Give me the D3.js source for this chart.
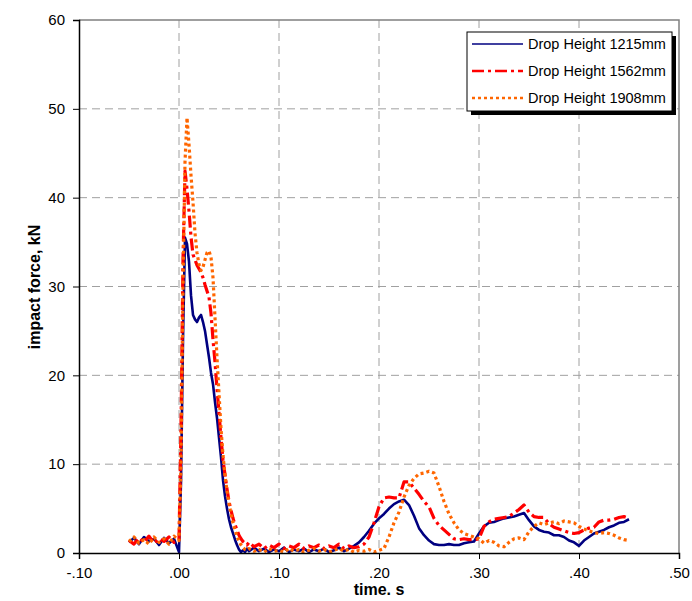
<!DOCTYPE html>
<html>
<head>
<meta charset="utf-8">
<script src="https://cdn.jsdelivr.net/npm/d3@7"></script>
<style>
  body { margin: 0; background: #fff; }
  text { font-family: "Liberation Sans", Arial, sans-serif; }
</style>
</head>
<body>
<svg id="chart" width="692" height="601"></svg>
<script>
// --- data (time in s, force in kN) ---
const time = [
  -0.050, -0.045, -0.040, -0.035, -0.030, -0.025, -0.020, -0.015, -0.010, -0.005, 0.000,
  0.002, 0.004, 0.006, 0.008, 0.010, 0.012, 0.014, 0.016, 0.018, 0.020,
  0.022, 0.024, 0.026, 0.028, 0.030, 0.032, 0.034, 0.036, 0.038, 0.040,
  0.042, 0.044, 0.046, 0.048, 0.050, 0.052, 0.054, 0.056, 0.058, 0.060,
  0.062, 0.064, 0.066, 0.068, 0.070,
  0.075, 0.080, 0.085, 0.090, 0.095, 0.100, 0.105, 0.110, 0.115, 0.120,
  0.125, 0.130, 0.135, 0.140, 0.145, 0.150, 0.155, 0.160, 0.165, 0.170,
  0.175, 0.180, 0.185, 0.190, 0.195, 0.200, 0.205, 0.210, 0.215, 0.220,
  0.225, 0.230, 0.235, 0.240, 0.245, 0.250, 0.255, 0.260, 0.265, 0.270,
  0.275, 0.280, 0.285, 0.290, 0.295, 0.300, 0.305, 0.310, 0.315, 0.320,
  0.325, 0.330, 0.335, 0.340, 0.345, 0.350, 0.355, 0.360, 0.365, 0.370,
  0.375, 0.380, 0.385, 0.390, 0.395, 0.400, 0.405, 0.410, 0.415, 0.420,
  0.425, 0.430, 0.435, 0.440, 0.445, 0.450
];

const h1215 = [
  1.2, 1.7, 1.0, 1.8, 1.3, 1.6, 0.9, 1.7, 1.1, 1.6, 0.1,
  8.0, 24.0, 35.5, 34.8, 32.8, 29.0, 26.8, 26.3, 26.0, 26.5,
  26.8, 26.0, 25.0, 23.5, 22.0, 20.3, 19.0, 17.0, 15.2, 13.0,
  10.8, 8.2, 6.4, 5.0, 3.8, 2.9, 2.2, 1.5, 0.9, 0.4,
  0.1, 0.3, 0.1, 0.5, 0.2,
  0.6, 0.2, 0.5, 0.1, 0.4, 0.2, 0.6, 0.1, 0.4, 0.2,
  0.5, 0.1, 0.4, 0.2, 0.5, 0.1, 0.3, 0.6, 0.2, 0.5,
  0.8, 1.2, 1.8, 2.5, 3.3, 3.9, 4.4, 5.0, 5.5, 5.8,
  6.0, 5.4, 4.2, 2.8, 2.0, 1.4, 1.0, 0.9, 0.9, 1.0,
  0.9, 0.9, 1.1, 1.2, 1.3, 2.2, 3.0, 3.4, 3.5, 3.7,
  3.9, 4.0, 4.1, 4.3, 4.5, 3.7, 3.0, 2.6, 2.4, 2.3,
  2.0, 2.0, 1.8, 1.4, 1.2, 0.8, 1.4, 1.8, 2.2, 2.4,
  2.6, 2.9, 3.1, 3.4, 3.5, 3.8
];

const h1562 = [
  1.4, 1.0, 1.7, 1.2, 1.9, 1.1, 1.6, 1.3, 1.8, 1.2, 1.5,
  14.0, 33.0, 43.0, 41.0, 38.5, 35.6, 33.6, 33.0, 32.4, 32.0,
  31.6, 31.0, 30.2, 29.5, 28.8, 27.0, 24.0, 21.5, 18.5, 15.8,
  13.0, 10.5, 8.8, 7.2, 5.8, 4.8, 3.9, 3.2, 2.6, 2.0,
  1.6, 1.3, 1.1, 0.9, 1.2,
  0.7, 1.0, 0.5, 0.9, 0.6, 1.0, 0.5, 0.8, 0.6, 1.0,
  0.5, 0.8, 0.6, 0.9, 0.5, 0.8, 0.6, 1.0, 0.5, 0.8,
  0.6, 0.7, 1.0, 1.8, 3.4, 5.2, 6.2, 6.3, 6.2, 6.2,
  8.0, 8.0, 7.3, 6.6, 5.8, 5.2, 3.9, 3.1, 2.6, 2.1,
  1.6, 1.5, 1.6, 1.5, 1.5, 1.6, 3.0, 3.5, 3.8, 3.9,
  4.0, 4.1, 4.5, 4.9, 5.4, 4.6, 4.1, 4.0, 4.0, 3.3,
  2.9, 2.7, 2.5, 2.3, 2.2, 2.3, 2.6, 2.8, 2.9, 3.5,
  3.7, 3.7, 3.8, 4.0, 4.1, 3.9
];

const h1908 = [
  1.3, 1.8, 1.1, 1.5, 1.0, 1.8, 1.2, 1.6, 1.0, 1.9, 1.4,
  10.0, 30.0, 44.0, 49.0, 46.0, 42.5, 39.5, 36.0, 33.8, 32.5,
  31.8, 32.2, 33.0, 33.8, 34.0, 33.3, 31.0, 26.5, 22.0, 18.0,
  14.0, 11.0, 8.8, 7.0, 5.6, 4.4, 3.4, 2.6, 1.9, 1.3,
  0.9, 0.6, 0.4, 0.3, 0.5,
  0.2, 0.4, 0.1, 0.5, 0.2, 0.3, 0.1, 0.5, 0.2, 0.4,
  0.1, 0.3, 0.5, 0.2, 0.4, 0.1, 0.3, 0.5, 0.2, 0.4,
  0.1, 0.3, 0.2, 0.4, 0.1, 0.3, 0.5, 1.8, 3.4, 4.6,
  6.3, 7.6, 8.4, 8.9, 9.0, 9.2, 9.0, 7.5, 5.8, 4.4,
  3.4, 2.6, 2.2, 2.0, 1.8, 1.6, 1.1, 1.4, 1.2, 0.8,
  0.7, 1.2, 1.6, 1.7, 1.5, 2.4, 3.0, 3.4, 3.2, 3.4,
  3.5, 3.3, 3.6, 3.5, 3.4, 3.0, 2.7, 2.5, 2.3, 2.2,
  2.3, 2.2, 2.0, 1.7, 1.5, 1.4
];

const seriesNames = ["Drop Height 1215mm", "Drop Height 1562mm", "Drop Height 1908mm"];
const xTicks = [-0.10, 0.00, 0.10, 0.20, 0.30, 0.40, 0.50];
const yTicks = [0, 10, 20, 30, 40, 50, 60];

// --- layout ---
const svg = d3.select("#chart");
const margin = { left: 79, top: 20, right: 679, bottom: 553 };

const x = d3.scaleLinear().domain([-0.10, 0.50]).range([margin.left, margin.right]);
const y = d3.scaleLinear().domain([0, 60]).range([margin.bottom, margin.top]);

// Excel style: ".10", "-.10"
const fmtX = d => (d < 0 ? "-" : "") + Math.abs(d).toFixed(2).replace(/^0/, "");

// gridlines
svg.append("g")
  .selectAll("line")
  .data(yTicks.filter(d => d > 0 && d < 60))
  .enter().append("line")
  .attr("x1", margin.left).attr("x2", margin.right)
  .attr("y1", d => y(d)).attr("y2", d => y(d))
  .attr("stroke", "#a0a0a0")
  .attr("stroke-dasharray", "8,5");

svg.append("g")
  .selectAll("line")
  .data(xTicks.filter(d => d > -0.1 && d < 0.5))
  .enter().append("line")
  .attr("x1", d => x(d)).attr("x2", d => x(d))
  .attr("y1", margin.top).attr("y2", margin.bottom)
  .attr("stroke", "#a0a0a0")
  .attr("stroke-dasharray", "8,5");

// plot border (top and right)
svg.append("path")
  .attr("d", `M${margin.left},${margin.top}H${margin.right}V${margin.bottom}`)
  .attr("fill", "none")
  .attr("stroke", "#808080")
  .attr("stroke-width", 1.5);

// series
const styles = [
  { data: h1215, color: "#000080", dash: null, width: 2.6 },
  { data: h1562, color: "#ff0000", dash: "12,4,3,4", width: 3.2 },
  { data: h1908, color: "#ff6600", dash: "3,3", width: 3.2 }
];

const line = d3.line()
  .x((d, i) => x(time[i]))
  .y(d => y(d));

svg.append("g")
  .selectAll("path")
  .data(styles)
  .enter().append("path")
  .attr("d", d => line(d.data))
  .attr("fill", "none")
  .attr("stroke", d => d.color)
  .attr("stroke-width", d => d.width)
  .attr("stroke-dasharray", d => d.dash)
  .attr("stroke-linejoin", "round");

// axes
const xAxis = svg.append("g")
  .attr("transform", `translate(0,${margin.bottom})`)
  .call(d3.axisBottom(x).tickValues(xTicks).tickFormat(fmtX).tickSize(6).tickPadding(8));
const yAxis = svg.append("g")
  .attr("transform", `translate(${margin.left},0)`)
  .call(d3.axisLeft(y).tickValues(yTicks).tickSize(6).tickPadding(8));

[xAxis, yAxis].forEach(a => {
  a.select(".domain").attr("stroke", "#000").attr("stroke-width", 1.5);
  a.selectAll(".tick line").attr("stroke", "#000");
  a.selectAll(".tick text")
    .attr("fill", "#000")
    .style("font-size", "15px")
    .style("font-family", "'Liberation Sans', Arial, sans-serif");
});

// axis titles
svg.append("text")
  .attr("x", 379).attr("y", 595)
  .attr("text-anchor", "middle")
  .style("font-size", "16px").style("font-weight", "bold")
  .text("time. s");

svg.append("text")
  .attr("transform", "translate(40,287) rotate(-90)")
  .attr("text-anchor", "middle")
  .style("font-size", "16px").style("font-weight", "bold")
  .text("impact force, kN");

// legend
const lg = svg.append("g");
lg.append("rect")
  .attr("x", 471).attr("y", 36).attr("width", 205).attr("height", 79)
  .attr("fill", "#000");
lg.append("rect")
  .attr("x", 467).attr("y", 32).attr("width", 205).attr("height", 79)
  .attr("fill", "#fff").attr("stroke", "#000");

const rows = [44, 71, 98];
styles.forEach((s, i) => {
  lg.append("line")
    .attr("x1", 472).attr("x2", 523)
    .attr("y1", rows[i]).attr("y2", rows[i])
    .attr("stroke", s.color)
    .attr("stroke-width", i === 0 ? 1.5 : 2.5)
    .attr("stroke-dasharray", s.dash);
  lg.append("text")
    .attr("x", 528).attr("y", rows[i] + 5)
    .style("font-size", "14.5px")
    .text(seriesNames[i]);
});
</script>
</body>
</html>
